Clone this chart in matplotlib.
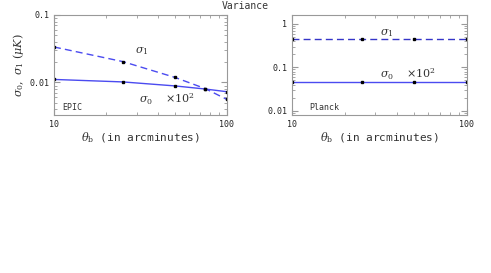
import matplotlib
matplotlib.use('Agg')
import matplotlib.pyplot as plt
from matplotlib.ticker import LogLocator, NullFormatter, FixedLocator, FixedFormatter

# beam sizes (arcmin)
theta_epic = [10, 25, 50, 75, 100]
sigma1_epic = [0.0336, 0.0204, 0.0119, 0.0081, 0.0056]
sigma0_epic = [0.0111, 0.0102, 0.0089, 0.0080, 0.0073]

theta_planck = [10, 25, 50, 100]
sigma1_planck = [0.44, 0.44, 0.44, 0.44]
sigma0_planck = [0.045, 0.045, 0.045, 0.045]

blue = '#4b4bf0'
plt.rcParams['font.family'] = 'DejaVu Sans Mono'
plt.rcParams['mathtext.fontset'] = 'dejavuserif'
plt.rcParams['text.color'] = '#333333'
plt.rcParams['axes.labelcolor'] = '#333333'

fig = plt.figure(figsize=(4.91, 2.73), dpi=100)
W, H = 491.0, 273.0
ax1 = fig.add_axes([54/W, 1-115/H, 173/W, 100/H])
ax2 = fig.add_axes([292/W, 1-115/H, 175/W, 100/H])

def style(ax):
	ax.set_xscale('log')
	ax.set_yscale('log')
	ax.set_xlim(10, 100)
	for s in ax.spines.values():
		s.set_color('#999999')
		s.set_linewidth(0.8)
	ax.tick_params(which='both', direction='in', top=True, right=True, color='#999999', labelsize=6, labelcolor='#222222')
	ax.tick_params(which='major', length=4)
	ax.tick_params(which='minor', length=2)
	ax.xaxis.set_major_locator(FixedLocator([10, 100]))
	ax.xaxis.set_major_formatter(FixedFormatter(['10', '100']))
	ax.xaxis.set_minor_locator(LogLocator(base=10, subs=range(2, 10)))
	ax.xaxis.set_minor_formatter(NullFormatter())
	ax.yaxis.set_minor_formatter(NullFormatter())
	ax.set_xlabel(r'$\theta_{\rm b}$ (in arcminutes)', fontsize=8, labelpad=1)

style(ax1)
ax1.set_ylim(0.0033, 0.1)
ax1.yaxis.set_major_locator(FixedLocator([0.01, 0.1]))
ax1.yaxis.set_major_formatter(FixedFormatter(['0.01', '0.1']))
ax1.plot(theta_epic, sigma1_epic, '--', color=blue, lw=1, dashes=(5, 3))
ax1.plot(theta_epic, sigma0_epic, '-', color=blue, lw=1)
ax1.plot(theta_epic, sigma1_epic, 's', color='black', ms=2)
ax1.plot(theta_epic, sigma0_epic, 's', color='black', ms=2)
ax1.text(0.47, 0.62, r'$\sigma_1$', transform=ax1.transAxes, fontsize=8)
ax1.text(0.49, 0.12, r'$\sigma_0$  $\times10^2$', transform=ax1.transAxes, fontsize=8)
ax1.text(0.05, 0.05, 'EPIC', transform=ax1.transAxes, fontsize=6)
ax1.set_ylabel(r'$\sigma_0,\ \sigma_1\ (\mu K)$', fontsize=8, labelpad=2)

style(ax2)
ax2.set_ylim(0.008, 1.6)
ax2.yaxis.set_major_locator(FixedLocator([0.01, 0.1, 1]))
ax2.yaxis.set_major_formatter(FixedFormatter(['0.01', '0.1', '1']))
ax2.plot(theta_planck, sigma1_planck, '--', color='#3535c8', lw=1, dashes=(5, 3))
ax2.plot(theta_planck, sigma0_planck, '-', color=blue, lw=1)
ax2.plot(theta_planck, sigma1_planck, 's', color='black', ms=2)
ax2.plot(theta_planck, sigma0_planck, 's', color='black', ms=2)
ax2.text(0.5, 0.8, r'$\sigma_1$', transform=ax2.transAxes, fontsize=8)
ax2.text(0.5, 0.37, r'$\sigma_0$  $\times10^2$', transform=ax2.transAxes, fontsize=8)
ax2.text(0.1, 0.05, 'Planck', transform=ax2.transAxes, fontsize=6)

fig.text(0.5, 1-6/H, 'Variance', ha='center', va='center', fontsize=7)

fig.savefig('out.png', dpi=100)
